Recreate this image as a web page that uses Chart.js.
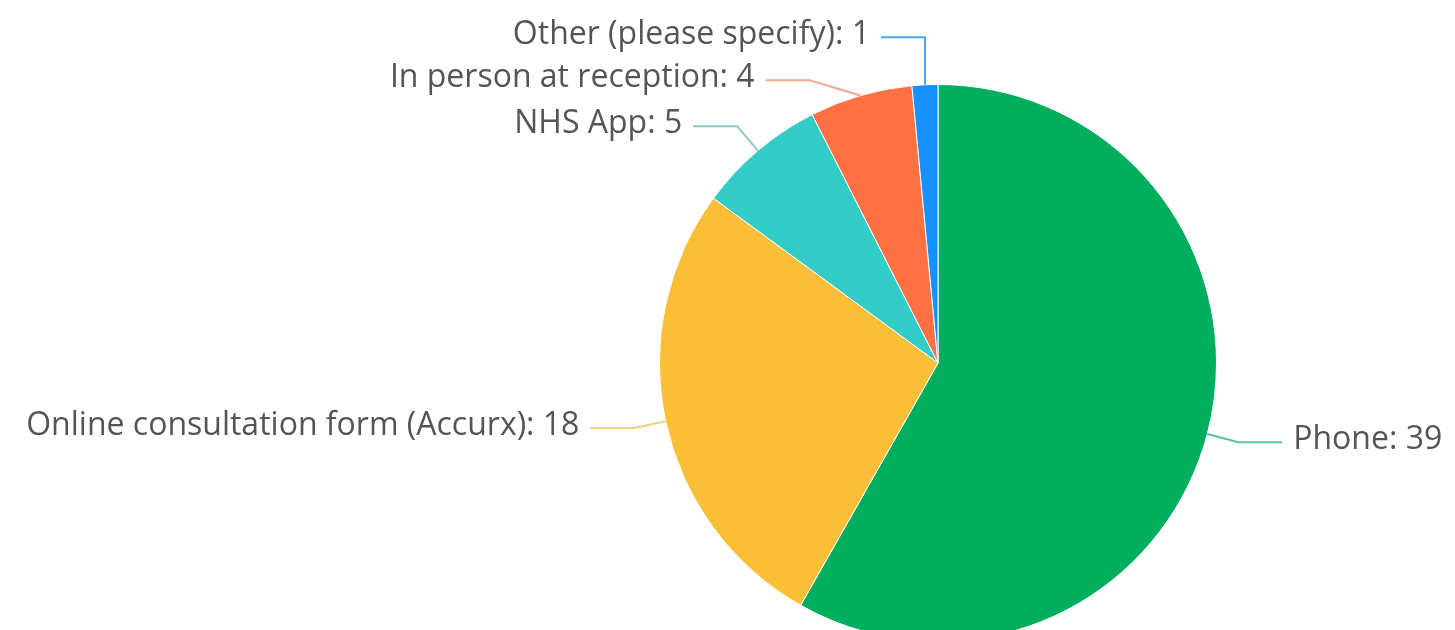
<!DOCTYPE html>
<html>
<head>
<meta charset="utf-8">
<script src="https://cdn.jsdelivr.net/npm/chart.js@4/dist/chart.umd.min.js"></script>
<style>
    html, body { margin: 0; padding: 0; background: #fff; overflow: hidden; }
    #wrap { position: relative; width: 1455px; height: 660px; }
</style>
</head>
<body>
<div id="wrap"><canvas id="pieChart"></canvas></div>
<script>
// Chart data
const categories = ['Phone', 'Online consultation form (Accurx)', 'NHS App', 'In person at reception', 'Other (please specify)'];
const responses = [39, 18, 5, 4, 1];
const sliceColors = ['#00AE5E', '#FBBF37', '#33CCC6', '#FF7043', '#1890FF'];
const lineColors = ['#5DC0A6', '#F5CF7A', '#8CC9C6', '#F2A98F', '#4DA3F5'];

// Outside labels with elbow lines (echarts-like)
const outerLabels = {
    id: 'outerLabels',
    afterDatasetsDraw(chart) {
        const ctx = chart.ctx;
        const meta = chart.getDatasetMeta(0);
        const len1 = 32, len2 = 44, gap = 11, minGap = 43;
        const items = [];

        meta.data.forEach((arc, i) => {
            const p = arc.getProps(['x', 'y', 'startAngle', 'endAngle', 'outerRadius'], true);
            const mid = (p.startAngle + p.endAngle) / 2;
            const R = p.outerRadius + len1;
            items.push({
                i: i,
                cx: p.x, cy: p.y, R: R,
                ex: p.x + Math.cos(mid) * p.outerRadius,
                ey: p.y + Math.sin(mid) * p.outerRadius,
                y: p.y + Math.sin(mid) * R,
                right: Math.cos(mid) >= 0
            });
        });

        // Push overlapping labels apart on each side
        [true, false].forEach(side => {
            const list = items.filter(it => it.right === side).sort((a, b) => a.y - b.y);
            for (let n = 0; n < 60; n++) {
                for (let k = 1; k < list.length; k++) {
                    const d = list[k].y - list[k - 1].y;
                    if (d < minGap) {
                        const shift = (minGap - d) / 2;
                        list[k - 1].y -= shift;
                        list[k].y += shift;
                    }
                }
            }
        });

        ctx.save();
        ctx.font = '32px "Open Sans", "Noto Sans", sans-serif';
        ctx.textBaseline = 'middle';
        items.forEach(it => {
            const dy = it.y - it.cy;
            const dx = Math.sqrt(Math.max(it.R * it.R - dy * dy, 0));
            let bx = it.right ? it.cx + dx : it.cx - dx;
            if (it.right) bx = Math.max(bx, it.ex); else bx = Math.min(bx, it.ex);
            const tx = it.right ? bx + len2 : bx - len2;

            ctx.strokeStyle = lineColors[it.i];
            ctx.lineWidth = 2;
            ctx.beginPath();
            ctx.moveTo(it.ex, it.ey);
            ctx.lineTo(bx, it.y);
            ctx.lineTo(tx, it.y);
            ctx.stroke();

            ctx.fillStyle = '#555555';
            ctx.textAlign = it.right ? 'left' : 'right';
            ctx.fillText(categories[it.i] + ': ' + responses[it.i], it.right ? tx + gap : tx - gap, it.y - 2);
        });
        ctx.restore();
    }
};

const pieChart = new Chart(document.getElementById('pieChart'), {
    type: 'pie',
    data: {
        labels: categories,
        datasets: [{
            data: responses,
            backgroundColor: sliceColors,
            borderColor: '#ffffff',
            borderWidth: 1,
            hoverOffset: 0,
            offset: 0
        }]
    },
    options: {
        responsive: true,
        maintainAspectRatio: false,
        animation: false,
        layout: { padding: { top: 84, bottom: 18, left: 659, right: 238 } },
        plugins: {
            legend: { display: false },
            tooltip: { enabled: false }
        }
    },
    plugins: [outerLabels]
});
</script>
</body>
</html>
